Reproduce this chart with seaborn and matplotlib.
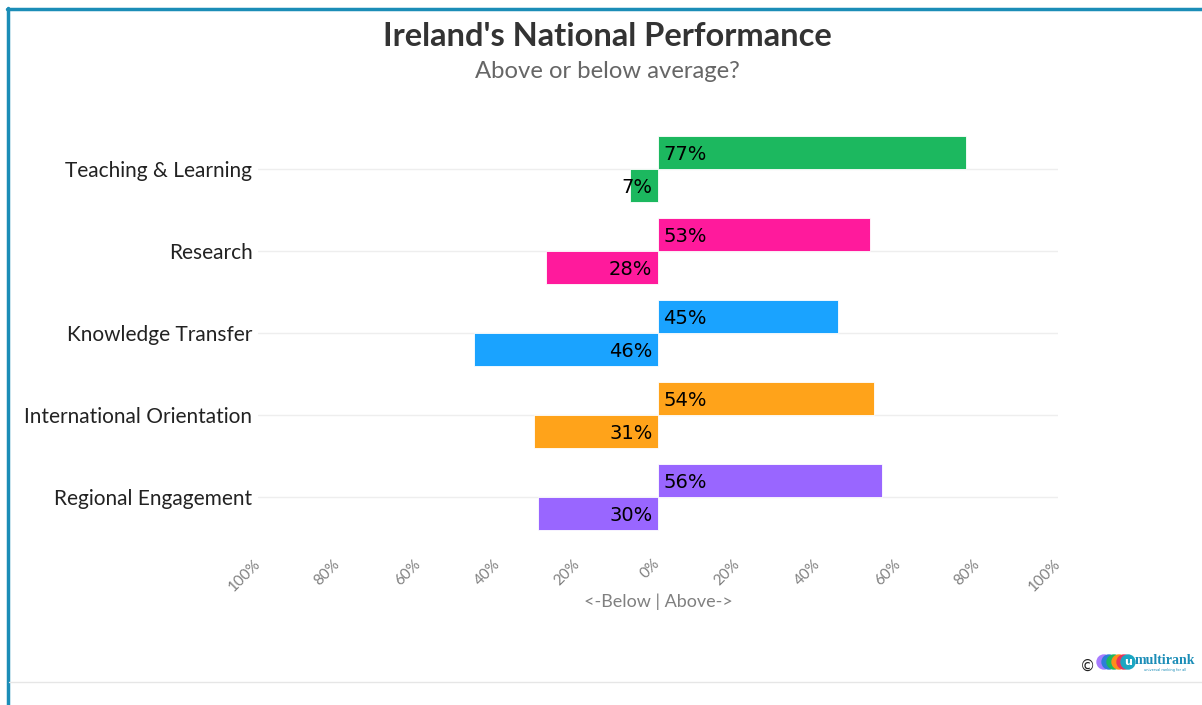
import matplotlib
matplotlib.use("Agg")
import matplotlib.pyplot as plt
import seaborn as sns
import pandas as pd
from matplotlib.lines import Line2D
from matplotlib.patches import Ellipse

categories = ["Teaching & Learning", "Research", "Knowledge Transfer",
              "International Orientation", "Regional Engagement"]
above = [77, 53, 45, 54, 56]
below = [7, 28, 46, 31, 30]
colors = ["#1cb85f", "#ff1a9c", "#1aa3ff", "#ffa31a", "#9966ff"]
tick_values = [-100, -80, -60, -40, -20, 0, 20, 40, 60, 80, 100]

sns.set_theme(style="white")
plt.rcParams["font.family"] = ["Lato", "DejaVu Sans"]

df = pd.DataFrame({
    "category": categories * 2,
    "side": ["above"] * len(categories) + ["below"] * len(categories),
    "value": above + [-v for v in below],
})

fig = plt.figure(figsize=(12.02, 7.05), dpi=100)
ax = fig.add_axes([258 / 1202, 1 - 538 / 705, 800 / 1202, 410 / 705])

sns.barplot(data=df, y="category", x="value", hue="side", order=categories,
            hue_order=["above", "below"], orient="h", dodge=True, width=0.8,
            ax=ax, legend=False, saturation=1, zorder=3)

for cont in ax.containers:
    for i, bar in enumerate(cont):
        bar.set_facecolor(colors[i])
        bar.set_edgecolor("#ffffff")
        bar.set_linewidth(0.6)

# value labels
for cont, vals, side in zip(ax.containers, [above, below], ["above", "below"]):
    for bar, v in zip(cont, vals):
        yc = bar.get_y() + bar.get_height() / 2
        if side == "above":
            ax.annotate(f"{v}%", xy=(0, yc), xytext=(4, -1.5), textcoords="offset points",
                        ha="left", va="center", fontsize=14, color="#000000",
                        family="DejaVu Sans", zorder=5)
        else:
            ax.annotate(f"{v}%", xy=(0, yc), xytext=(-4, -1.5), textcoords="offset points",
                        ha="right", va="center", fontsize=14, color="#000000",
                        family="DejaVu Sans", zorder=5)

ax.set_xlim(-100, 100)
ax.set_ylim(len(categories) - 0.5, -0.5)
ax.set_xticks(tick_values)
ax.set_xticklabels([f"{abs(t)}%" for t in tick_values], rotation=45, ha="right",
                   va="center", rotation_mode="anchor", color="#808080", fontsize=11)
ax.tick_params(axis="x", length=0, pad=17)
ax.tick_params(axis="y", length=0, pad=4, labelsize=15, labelcolor="#222222")
ax.set_ylabel("")
ax.set_xlabel("<-Below | Above->", fontsize=13, color="#808080", labelpad=0)
for s in ax.spines.values():
    s.set_visible(False)
ax.grid(False)
for i in range(len(categories)):
    ax.axhline(i, color="#eeeeee", lw=1, zorder=1)

fig.text(0.505, 1 - 36 / 705, "Ireland's National Performance", ha="center", va="center",
         fontsize=23.5, fontweight="bold", color="#333333")
fig.text(0.505, 1 - 72 / 705, "Above or below average?", ha="center", va="center",
         fontsize=17.2, color="#666666")

# frame
fig.add_artist(Line2D([7 / 1202, 1], [1 - 9 / 705, 1 - 9 / 705], color="#1b8db7", lw=2.5,
                      transform=fig.transFigure))
fig.add_artist(Line2D([8 / 1202, 8 / 1202], [0, 1 - 8 / 705], color="#1b8db7", lw=2.5,
                      transform=fig.transFigure))
fig.add_artist(Line2D([9 / 1202, 1], [1 - 682 / 705, 1 - 682 / 705], color="#e6e6e6", lw=1,
                      transform=fig.transFigure))

# logo
fig.text(1087 / 1202, 1 - 666 / 705, "©", ha="center", va="center", fontsize=11,
         color="#222222", family="DejaVu Sans")
for j, c in enumerate(["#a77bff", "#2c7fd8", "#1cb85f", "#ff8c1a", "#e8325a"]):
    fig.add_artist(Ellipse(((1104 + j * 5) / 1202, 1 - 662 / 705), 14 / 1202, 14 / 705,
                           color=c, transform=fig.transFigure))
fig.add_artist(Ellipse((1128 / 1202, 1 - 662 / 705), 14 / 1202, 14 / 705, color="#1ba6c2",
                       transform=fig.transFigure))
fig.text(1128 / 1202, 1 - 662 / 705, "u", ha="center", va="center", fontsize=8,
         color="white", fontweight="bold", family="DejaVu Sans")
fig.text(1135 / 1202, 1 - 660 / 705, "multirank", ha="left", va="center", fontsize=10,
         color="#1b8db7", fontweight="bold", family="Liberation Serif")
fig.text(1165 / 1202, 1 - 670 / 705, "universal ranking for all", ha="center", va="center",
         fontsize=2.5, color="#1b8db7", family="DejaVu Sans")

fig.savefig("out.png", dpi=100, facecolor="white")
